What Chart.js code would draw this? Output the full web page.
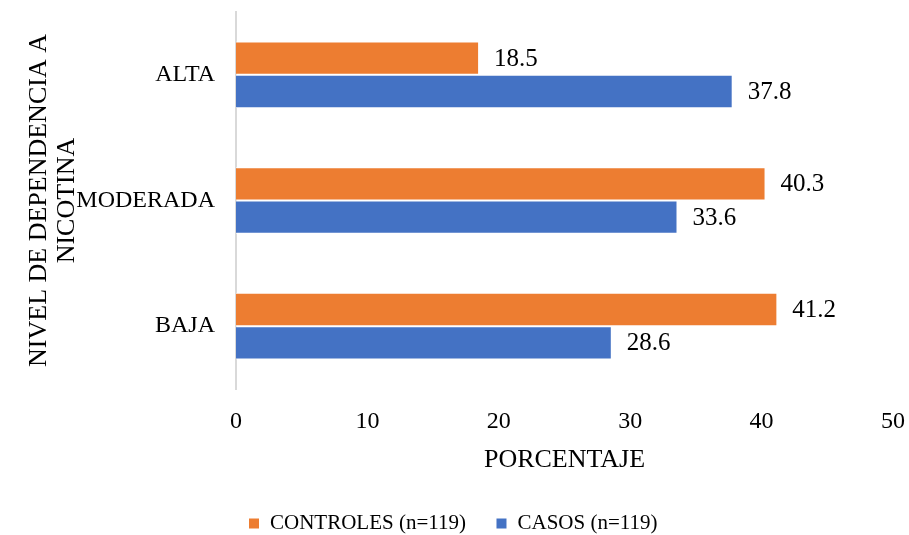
<!DOCTYPE html>
<html>
<head>
<meta charset="utf-8">
<script src="https://cdn.jsdelivr.net/npm/chart.js@4.4.1/dist/chart.umd.min.js"></script>
<style>
  html, body { margin: 0; padding: 0; background: #fff; }
  #wrap { position: relative; width: 909px; height: 535px; }
</style>
</head>
<body>
<div id="wrap"><canvas id="chart"></canvas></div>
<script>
// data
const categories = ['ALTA', 'MODERADA', 'BAJA'];
const controles = [18.5, 40.3, 41.2];
const casos = [37.8, 33.6, 28.6];
const seriesNames = ['CONTROLES (n=119)', 'CASOS (n=119)'];
const xTicks = [0, 10, 20, 30, 40, 50];

const serif = "'Liberation Serif', 'Times New Roman', serif";

// values next to the end of each bar
const barLabels = {
  id: 'barLabels',
  afterDatasetsDraw(chart) {
    const ctx = chart.ctx;
    ctx.save();
    ctx.font = '25px ' + serif;
    ctx.fillStyle = '#000';
    ctx.textAlign = 'left';
    ctx.textBaseline = 'middle';
    chart.data.datasets.forEach((ds, i) => {
      chart.getDatasetMeta(i).data.forEach((bar, j) => {
        ctx.fillText(ds.data[j].toFixed(1), bar.x + 15, bar.y + 1);
      });
    });
    ctx.restore();
  }
};

new Chart(document.getElementById('chart'), {
  type: 'bar',
  data: {
    labels: categories,
    datasets: [
      {
        label: seriesNames[0],
        data: controles,
        backgroundColor: '#ED7D31',
        borderColor: '#ffffff',
        borderWidth: 1
      },
      {
        label: seriesNames[1],
        data: casos,
        backgroundColor: '#4472C4',
        borderColor: '#ffffff',
        borderWidth: 1
      }
    ]
  },
  options: {
    indexAxis: 'y',
    responsive: true,
    maintainAspectRatio: false,
    animation: false,
    layout: { padding: { top: 12, left: 13, right: 16, bottom: -9 } },
    datasets: {
      bar: { categoryPercentage: 0.53, barPercentage: 1 }
    },
    scales: {
      x: {
        min: 0,
        max: 50,
        afterBuildTicks: (axis) => { axis.ticks = xTicks.map(v => ({ value: v })); },
        afterFit: (axis) => { axis.paddingRight = 0; axis.paddingLeft = 0; },
        grid: { display: false, drawTicks: true, tickLength: 13 },
        border: { display: false },
        ticks: { color: '#000', font: { family: serif, size: 24 }, padding: 5 },
        title: {
          display: true,
          text: 'PORCENTAJE',
          color: '#000',
          font: { family: serif, size: 26 },
          padding: { top: 4, bottom: 7 }
        }
      },
      y: {
        afterFit: (axis) => {
          axis.width = 223;
          axis.paddingTop = 0;
          axis.paddingBottom = 0;
        },
        grid: { display: false, drawTicks: false },
        border: { display: true, color: '#d9d9d9', width: 2 },
        ticks: { color: '#000', font: { family: serif, size: 24 }, padding: 21 },
        title: {
          display: true,
          text: ['NIVEL DE DEPENDENCIA A', 'NICOTINA'],
          color: '#000',
          font: { family: serif, size: 26, lineHeight: 1.08 },
          padding: { top: 12, bottom: 0 }
        }
      }
    },
    plugins: {
      legend: {
        position: 'bottom',
        labels: {
          color: '#000',
          font: { family: serif, size: 21 },
          boxWidth: 11,
          boxHeight: 11,
          padding: 30
        }
      },
      tooltip: { enabled: false }
    }
  },
  plugins: [barLabels]
});
</script>
</body>
</html>
